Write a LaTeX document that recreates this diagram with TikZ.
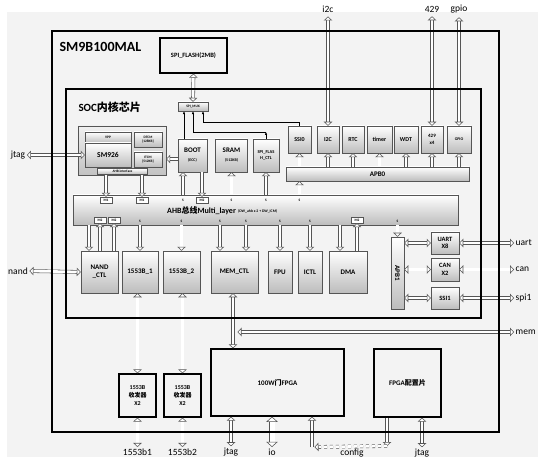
\documentclass[tikz,border=0pt]{standalone}
\usepackage{fontspec}
\setmainfont{Carlito}
\newfontfamily\cjk{Noto Sans CJK SC}
\usepackage{tikz}
\usetikzlibrary{arrows.meta}
\definecolor{bgc}{RGB}{243,243,243}
\definecolor{edge}{RGB}{85,85,85}

\begin{document}
\begin{tikzpicture}[x=1pt,y=-1pt,
          sz/.style 2 args={minimum width=#1pt,minimum height=#2pt},
          blk/.style={draw=edge,top color=white,bottom color=black!26,line width=0.5pt,inner sep=0pt,align=center,font=\fontsize{7}{8}\selectfont\bfseries},
          chip/.style={draw=black,line width=1.3pt,fill=bgc,inner sep=0pt,align=center,font=\fontsize{7}{9}\selectfont\bfseries},
          tag/.style={draw=edge,fill=white,line width=0.4pt,inner sep=0pt,minimum width=12pt,minimum height=6pt,font=\fontsize{3.5}{4}\selectfont\bfseries},
          slv/.style={font=\fontsize{3.5}{4}\selectfont\bfseries,inner sep=0pt},
          ext/.style={font=\fontsize{9.5}{10}\selectfont,inner sep=1.5pt},
          >={Triangle[fill=white,length=4pt,width=8.5pt]},
          hw/.style={draw=edge,double=white,double distance=2.6pt,line width=0.55pt},
          tips/.style={postaction={draw=edge,line width=0.55pt,shorten >=0pt,shorten <=0pt,dash pattern=on 0pt off 4000pt,#1}},
          hone/.style={hw,shorten >=3.8pt,tips=->},
          hboth/.style={hw,shorten >=3.8pt,shorten <=3.8pt,tips=<->},
          hbig/.style={draw=edge,double=white,double distance=5pt,line width=0.55pt,shorten >=5pt,shorten <=5pt,
                       tips={{Triangle[fill=white,length=5.2pt,width=11.5pt]}-{Triangle[fill=white,length=5.2pt,width=11.5pt]}}},
          wire/.style={line width=0.5pt,-{Latex[length=3pt,width=2.6pt]}}]
        \useasboundingbox (0,0) rectangle (538,457);
        \fill[bgc] (7,12) rectangle (538,457);
        % titles
        \node[anchor=west,font=\fontsize{14}{16}\selectfont\bfseries] (title) at (56,47) {SM9B100MAL};
        \node[anchor=west,font=\fontsize{11}{13}\selectfont\bfseries] (soctitle) at (75,107) {SOC{\cjk 内核芯片}};
        % flash and mux
        \node[chip,sz={67}{35},font=\fontsize{6.5}{8}\selectfont\bfseries] (flash) at (193.5,55.5) {SPI\_FLASH(2MB)};
        \node[blk,sz={30}{9},font=\fontsize{3.5}{4}\selectfont\bfseries] (mux) at (193,106.5) {SPI\_MUX};
        % cpu
        \node[draw=edge,top color=black!6,bottom color=black!24,sz={88}{49}] (cpu) at (122,150.5) {};
        \node[blk,sz={46}{11},font=\fontsize{3.5}{4}\selectfont\bfseries] (vpp) at (108,137.5) {VPP};
        \node[blk,sz={46}{24},font=\fontsize{7.5}{8}\selectfont\bfseries] (sm926) at (108,155) {SM926};
        \node[blk,sz={28}{15},font=\fontsize{3.5}{4.5}\selectfont\bfseries] (dtcm) at (148,139.5) {DTCM\\{[128KB]}};
        \node[blk,sz={28}{15},font=\fontsize{3.5}{4.5}\selectfont\bfseries] (itcm) at (148,159.5) {ITCM\\{[512KB]}};
        \node[blk,sz={50}{5.5},font=\fontsize{3.5}{4}\selectfont\bfseries] (ahbif) at (122.5,171.5) {AHB interface};
        % memories
        \node[blk] [sz={29}{33}] (boot) at (192.5,155.5) {BOOT\\[1pt]{\fontsize{4}{5}\selectfont (ECC)}};
        \node[blk] [sz={32}{33}] (sram) at (231.5,155.5) {SRAM\\[1pt]{\fontsize{4}{5}\selectfont (512KB)}};
        \node[blk,font=\fontsize{4.5}{5.5}\selectfont\bfseries] [sz={26}{33}] (flashctl) at (266,155.5) {SPI\_FLAS\\H\_CTL};
        % apb0 side
        \node[blk,font=\fontsize{6}{7}\selectfont\bfseries] [sz={23}{27}] (ssi0) at (299.5,139.5) {SSI0};
        \node[blk,font=\fontsize{6}{7}\selectfont\bfseries] [sz={22}{27}] (i2c) at (328,139.5) {I2C};
        \node[blk,font=\fontsize{6}{7}\selectfont\bfseries] [sz={22}{27}] (rtc) at (353,139.5) {RTC};
        \node[blk,font=\fontsize{6}{7}\selectfont\bfseries] [sz={25}{27}] (timer) at (379.5,139.5) {timer};
        \node[blk,font=\fontsize{6}{7}\selectfont\bfseries] [sz={24}{27}] (wdt) at (406,139.5) {WDT};
        \node[blk,font=\fontsize{5}{6.5}\selectfont\bfseries] [sz={22}{27}] (c429) at (432,139.5) {429\\x4};
        \node[blk,font=\fontsize{4}{5}\selectfont\bfseries] [sz={24}{27}] (gpio) at (459,139.5) {GPIO};
        \node[blk] [sz={183}{14}] (apb0) at (377.5,174) {APB0};
        % ahb
        \node[blk] [sz={385}{30}] (ahb) at (265.5,210) {};
        \node[font=\fontsize{8}{9}\selectfont\bfseries,anchor=west,inner sep=0pt] (ahbtxt) at (167,211) {AHB{\cjk 总线}Multi\_layer};
        \node[font=\fontsize{3.8}{4}\selectfont\bfseries,anchor=west,inner sep=0pt] (ahbsub) at (238,211) {(DW\_ahb x 2 + DW\_ICM)};
        % lower blocks
        \node[blk] [sz={37}{42}] (nand) at (99.5,272) {NAND\\\_CTL};
        \node[blk] [sz={36}{42}] (b1) at (140,272) {1553B\_1};
        \node[blk] [sz={37}{42}] (b2) at (181.5,272) {1553B\_2};
        \node[blk] [sz={47}{42}] (mem) at (234.5,272) {MEM\_CTL};
        \node[blk] [sz={24}{42}] (fpu) at (280,272) {FPU};
        \node[blk] [sz={24}{42}] (ictl) at (310,272) {ICTL};
        \node[blk] [sz={38}{42}] (dma) at (348,272) {DMA};
        \node[blk,sz={13}{72},label={[rotate=-90,font=\fontsize{7}{8}\selectfont\bfseries]center:APB1}] (apb1) at (397.5,273) {};
        \node[blk,font=\fontsize{6.5}{7.5}\selectfont\bfseries] [sz={28}{22}] (uart) at (445,243) {UART\\X8};
        \node[blk,font=\fontsize{6.5}{7.5}\selectfont\bfseries] [sz={28}{23}] (can) at (445,269.5) {CAN\\X2};
        \node[blk,font=\fontsize{6.5}{7.5}\selectfont\bfseries] [sz={28}{22}] (ssi1) at (445,298) {SSI1};
        % off-core parts
        \node[chip,font=\fontsize{6}{8}\selectfont\bfseries] [sz={37}{43}] (tr1) at (137.5,395.5) {1553B\\{\cjk 收发器}\\X2};
        \node[chip,font=\fontsize{6}{8}\selectfont\bfseries] [sz={37}{43}] (tr2) at (182.5,395.5) {1553B\\{\cjk 收发器}\\X2};
        \node[chip] [sz={133}{67}] (fpga) at (277.5,382.5) {100W{\cjk 门}FPGA};
        \node[chip] [sz={67}{68}] (cfg) at (407.5,383) {FPGA{\cjk 配置片}};
        % bus tags
        \node[tag] (m1a) at (106,200) {M1};
        \node[tag] (m1b) at (142,200) {M1};
        \node[slv] (sboot) at (183,200) {S};
        \node[tag] (m2boot) at (202,200) {M2};
        \node[slv] (ssram) at (231.5,200) {S};
        \node[slv] (sctl) at (266,200) {S};
        \node[slv] (sapb0) at (299.5,200) {S};
        \node[tag] (m2na) at (100,220) {M2};
        \node[tag] (m2nb) at (114,220) {M2};
        \node[slv] (sb1) at (140,221) {S};
        \node[slv] (sb2) at (181.5,221) {S};
        \node[slv] (smema) at (220,221) {S};
        \node[slv] (smemb) at (246,221) {S};
        \node[slv] (sfpu) at (280,221) {S};
        \node[slv] (sictl) at (310,221) {S};
        \node[tag] (m2dma) at (357,220) {M2};
        \node[slv] (sapb1) at (397.5,221) {S};
        % outside names
        \node[ext] (jtagl) at (18,155) {jtag};
        \node[ext] (nandl) at (18,271) {nand};
        \node[ext,anchor=west] (uartl) at (514,243) {uart};
        \node[ext,anchor=west] (canl) at (514,269.5) {can};
        \node[ext,anchor=west] (spil) at (514,298) {spi1};
        \node[ext,anchor=west] (meml) at (514,332) {mem};
        \node[ext,inner sep=4pt] (i2cl) at (328,9) {i2c};
        \node[ext,inner sep=4pt] (c429l) at (432,9) {429};
        \node[ext,inner sep=4pt] (gpiol) at (459,9) {gpio};
        \node[ext] (b1l) at (137.5,452) {1553b1};
        \node[ext] (b2l) at (182.5,452) {1553b2};
        \node[ext] (jtagfl) at (231,452) {jtag};
        \node[ext] (iol) at (272,452) {io};
        \node[ext] (cfgl) at (352,453) {config};
        \node[ext] (jtagcl) at (422,453) {jtag};
        \coordinate (ctlbend) at (266,132);
        \coordinate (ssibend) at (299.5,122);
        \coordinate (cfgbend) at (387,446);
        \coordinate (fpgabend) at (312,447);

        % mux lines
        \draw[hboth] (flash.south) -- (mux.north);
        \draw[wire] ([xshift=-8.5pt]boot.north) -- ([xshift=-8.5pt]boot.north |- mux.south);
        \draw[wire] (flashctl.north) -- (ctlbend);
        \draw[wire] (ctlbend) -| (mux.south);
        \draw[wire] (ssi0.north) -- (ssibend) -| ([xshift=10pt]mux.south);
        % upper side of the bus
        \draw[hboth] (jtagl.east) -- (sm926.west);
        \draw[hone] ([yshift=-3.5pt]boot.west) -- ([yshift=-3.5pt]boot.west -| cpu.east);
        \draw[hone] (m1a |- cpu.south) -- (m1a.north);
        \draw[hone] (m1b |- cpu.south) -- (m1b.north);
        \draw[hone] (sboot |- ahb.north) -- (sboot |- boot.south);
        \draw[hone] (m2boot |- boot.south) -- (m2boot.north);
        \draw[hone] (ssram |- ahb.north) -- (sram.south);
        \draw[hone] (sctl |- ahb.north) -- (flashctl.south);
        \draw[hone] (sapb0 |- ahb.north) -- (apb0.south -| sapb0);
        \draw[hone] (ssi0 |- apb0.north) -- (ssi0.south);
        \draw[hone] (i2c |- apb0.north) -- (i2c.south);
        \draw[hone] (rtc |- apb0.north) -- (rtc.south);
        \draw[hone] (timer |- apb0.north) -- (timer.south);
        \draw[hone] (wdt |- apb0.north) -- (wdt.south);
        \draw[hone] (c429 |- apb0.north) -- (c429.south);
        \draw[hone] (gpio |- apb0.north) -- (gpio.south);
        \draw[hboth] (i2c.north) -- (i2cl.south);
        \draw[hboth] (c429.north) -- (c429l.south);
        \draw[hboth] (gpio.north) -- (gpiol.south);
        % lower side of the bus
        \draw[hone] ([xshift=-10.5pt]nand.north |- ahb.south) -- ([xshift=-10.5pt]nand.north);
        \draw[hone] (m2na |- nand.north) -- (m2na.south);
        \draw[hone] (m2nb |- nand.north) -- (m2nb.south);
        \draw[hone] (b1 |- ahb.south) -- (b1.north);
        \draw[hone] (b2 |- ahb.south) -- (b2.north);
        \draw[hone] (smema |- ahb.south) -- (smema |- mem.north);
        \draw[hone] (smemb |- ahb.south) -- (smemb |- mem.north);
        \draw[hone] (fpu |- ahb.south) -- (fpu.north);
        \draw[hone] (ictl |- ahb.south) -- (ictl.north);
        \draw[hone] ([xshift=-8pt]dma.north |- ahb.south) -- ([xshift=-8pt]dma.north);
        \draw[hone] (m2dma |- dma.north) -- (m2dma.south);
        \draw[hone] (apb1 |- ahb.south) -- (apb1.north);
        \draw[hboth] (apb1.east |- uart.west) -- (uart.west);
        \draw[hboth] (apb1.east |- can.west) -- (can.west);
        \draw[hboth] (apb1.east |- ssi1.west) -- (ssi1.west);
        \draw[hboth] (uart.east) -- (uartl.west);
        \draw[hboth] (can.east) -- (canl.west);
        \draw[hboth] (ssi1.east) -- (spil.west);
        \draw[hboth] (nandl.east) -- (nand.west);
        % off-core links
        \draw[hboth] (tr1.north |- b1.south) -- (tr1.north);
        \draw[hboth] (tr2.north |- b2.south) -- (tr2.north);
        \draw[hboth] (tr1.south) -- (b1l.north);
        \draw[hboth] (tr2.south) -- (b2l.north);
        \draw[hboth] ([xshift=-1.5pt]mem.south) -- ([xshift=-1.5pt]mem.south |- fpga.north);
        \draw[hboth] ([xshift=3pt]mem.south |- meml.west) -- (meml.west);
        \draw[hboth] (jtagfl.north |- fpga.south) -- (jtagfl.north);
        \draw[hbig] (iol.north |- fpga.south) -- (iol.north);
        \draw[hboth] (jtagcl.north |- cfg.south) -- (jtagcl.north);
        \draw[hone] ([xshift=-20.5pt]cfg.south) -- (cfgbend);
        \draw[hone,dashed] (cfgbend) -- ([xshift=2.5pt]fpgabend);
        \draw[hone] (fpgabend) -- (fpgabend |- fpga.south);
        % chip outlines
        \draw[line width=1.6pt] (52,31) rectangle (499,432);
        \draw[line width=1.3pt] (66,89) rectangle (481,318);
      \end{tikzpicture}
\end{document}
